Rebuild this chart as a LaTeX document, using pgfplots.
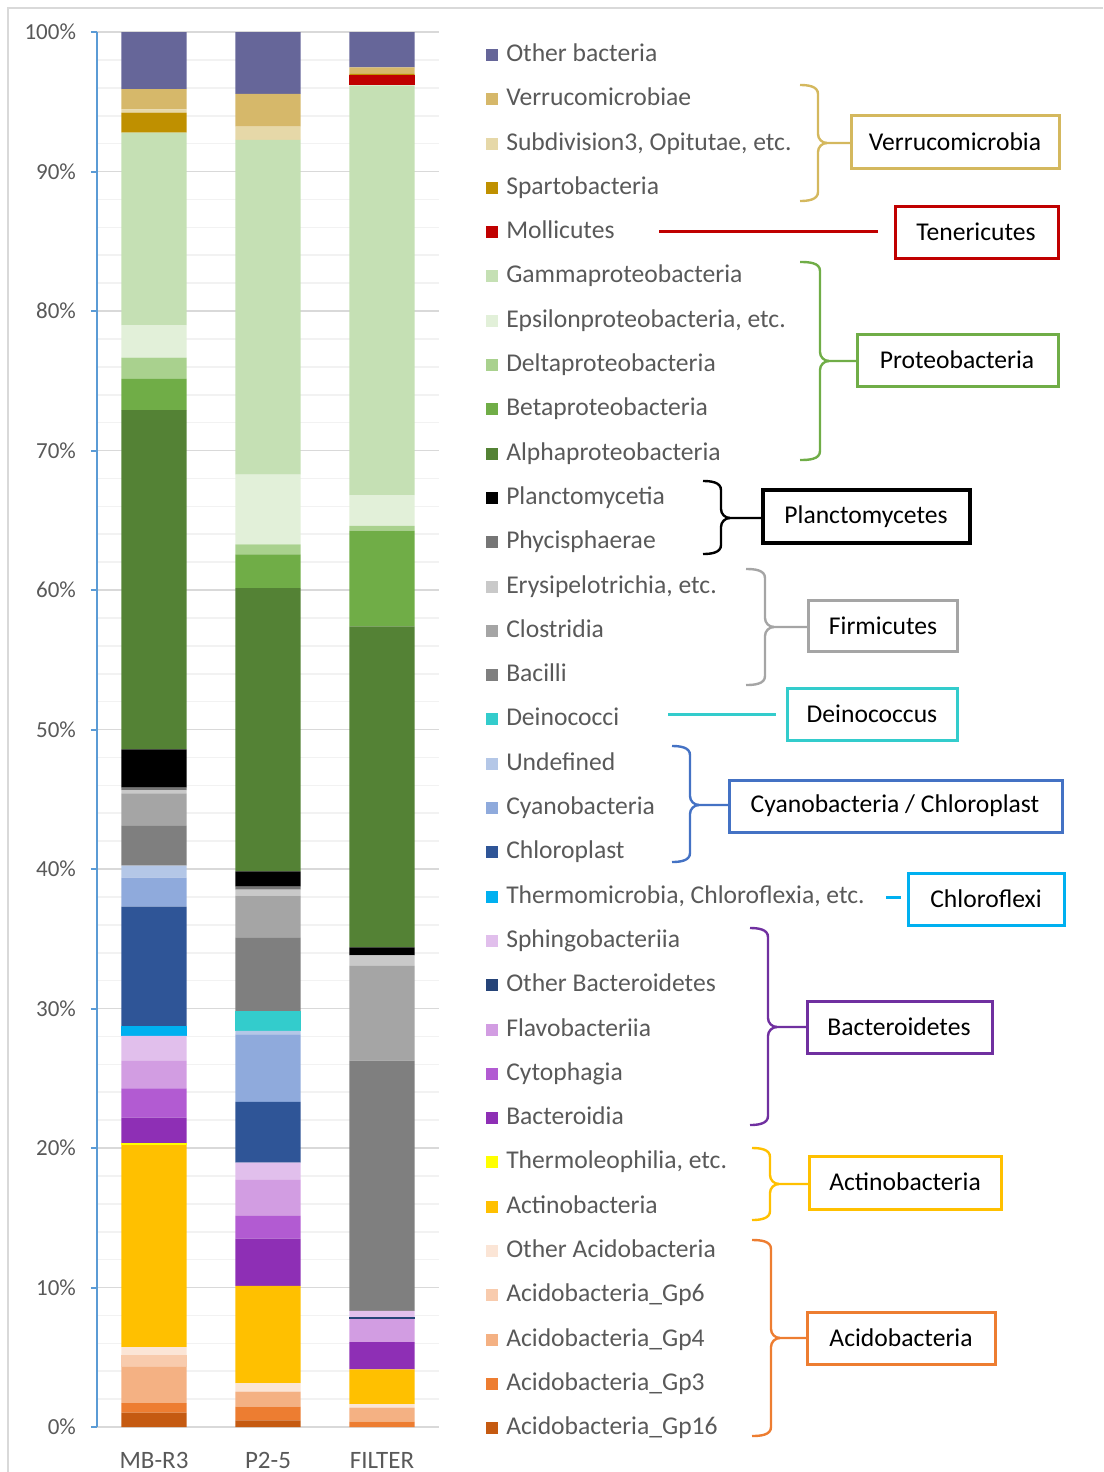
\documentclass[border=0pt]{standalone}
\usepackage{fontspec}
\setmainfont{Carlito}
\usepackage{pgfplots}
\usepackage{pgfplotstable}
\pgfplotsset{compat=1.18}

\definecolor{cg16}{HTML}{C55A11}
\definecolor{cg3}{HTML}{ED7D31}
\definecolor{cg4}{HTML}{F4B183}
\definecolor{cg6}{HTML}{F8CBAD}
\definecolor{coac}{HTML}{FBE5D6}
\definecolor{cact}{HTML}{FFC000}
\definecolor{cthl}{HTML}{FFFF00}
\definecolor{cbdi}{HTML}{8E2FB5}
\definecolor{ccyt}{HTML}{B25BD2}
\definecolor{cfla}{HTML}{D29DE2}
\definecolor{cobd}{HTML}{264478}
\definecolor{csph}{HTML}{E1BFEC}
\definecolor{ctmc}{HTML}{00B0F0}
\definecolor{cchl}{HTML}{2F5597}
\definecolor{ccya}{HTML}{8FAADC}
\definecolor{cund}{HTML}{B4C7E7}
\definecolor{cdei}{HTML}{33CCCC}
\definecolor{cbac}{HTML}{7F7F7F}
\definecolor{cclo}{HTML}{A5A5A5}
\definecolor{cery}{HTML}{C9C9C9}
\definecolor{cphy}{HTML}{767676}
\definecolor{cpla}{HTML}{000000}
\definecolor{calp}{HTML}{548235}
\definecolor{cbet}{HTML}{70AD47}
\definecolor{cdel}{HTML}{A9D18E}
\definecolor{ceps}{HTML}{E2F0D9}
\definecolor{cgam}{HTML}{C5E0B4}
\definecolor{cmol}{HTML}{C00000}
\definecolor{cspa}{HTML}{BF9000}
\definecolor{csub}{HTML}{E6D8A8}
\definecolor{cver}{HTML}{D6B86A}
\definecolor{coth}{HTML}{666699}

\definecolor{labgray}{HTML}{595959}
\definecolor{gridmaj}{HTML}{D9D9D9}
\definecolor{gridmin}{HTML}{F2F2F2}
\definecolor{axisblue}{HTML}{5B9BD5}
\definecolor{bverr}{HTML}{D4B85E}
\definecolor{bcyan}{HTML}{4472C4}
\definecolor{bbact}{HTML}{7030A0}

% relative abundance (%) per sample, bottom of stack first
\pgfplotstableread{
x g16 g3 g4 g6 oac act thl bdi cyt fla obd sph tmc chl cya und dei bac clo ery phy pla alp bet del eps gam mol spa sub ver oth
0 1.03 0.69 2.60 0.86 0.55 14.47 0.14 1.83 2.11 1.96 0 1.79 0.72 8.55 2.08 0.86 0 2.89 2.30 0.23 0.17 2.75 24.32 2.23 1.52 2.33 13.80 0 1.44 0.24 1.45 4.09
1 0.48 0.98 1.07 0 0.62 6.96 0 3.39 1.63 2.58 0 1.24 0 4.35 4.85 0.24 1.43 5.28 3.00 0.43 0.20 1.10 20.31 2.42 0.71 5.00 23.99 0 0 0.95 2.35 4.44
2 0 0.38 1.01 0 0.26 2.48 0 1.96 0 1.65 0.15 0.43 0 0 0 0 0 17.94 6.79 0.76 0 0.58 23.00 6.86 0.35 2.20 29.38 0.72 0.09 0 0.48 2.53
}\data

\newcommand{\series}[3]{\addplot[fill=#2, draw=none,
  legend image code/.code={\fill[#2] (0pt,-3pt) rectangle (6pt,3pt);}]
  table[x=x,y=#1]{\data};\addlegendentry{#3}}

% right brace: colour, tip x, spine x, top y, mid y, bottom y, end x
\newcommand{\grpbrace}[7]{%
  \draw[#1, line width=1.2pt] (#2,#4) to[out=0,in=90] ({#3},{#4+9}) -- ({#3},{#5-9}) to[out=-90,in=180] ({#3+9},#5) -- (#7,#5);
  \draw[#1, line width=1.2pt] (#2,#6) to[out=0,in=-90] ({#3},{#6-9}) -- ({#3},{#5+9}) to[out=90,in=180] ({#3+9},#5);}
\newcommand{\gbox}[6][1.5pt]{%
  \draw[#2, line width=#1] (#3) rectangle (#4);
  \node[font=\fontsize{12.8}{14}\selectfont, text=black] at (#5) {#6};}

\begin{document}
\begin{tikzpicture}
\useasboundingbox (0pt,0pt) rectangle (551.5pt,-736pt);
\begin{axis}[
  at={(48.5pt,-713.5pt)}, anchor=south west,
  scale only axis, width=171pt, height=697.5pt,
  ybar stacked, bar width=32.5pt,
  xmin=-0.5, xmax=2.5, ymin=0, ymax=100,
  xtick={0,1,2}, xticklabels={MB-R3,P2-5,FILTER},
  ytick={0,10,20,30,40,50,60,70,80,90,100},
  yticklabels={0\%,10\%,20\%,30\%,40\%,50\%,60\%,70\%,80\%,90\%,100\%},
  minor y tick num=4,
  ymajorgrids, yminorgrids,
  major grid style={draw=gridmaj, line width=0.8pt},
  minor grid style={draw=gridmin, line width=0.8pt},
  axis x line*=bottom, axis y line*=left,
  x axis line style={draw=none},
  y axis line style={-, draw=axisblue, line width=1pt},
  tick align=outside, major tick length=3pt, minor tick length=0pt,
  ytick style={draw=axisblue, line width=1pt},
  xtick style={draw=none},
  yticklabel style={font=\fontsize{11.5}{12}\selectfont, text=labgray, xshift=-4pt},
  xticklabel style={font=\fontsize{12.5}{13}\selectfont, text=labgray, yshift=-6pt},
  reverse legend, legend cell align=left,
  legend style={at={(axis description cs:1.137,0.9928)}, anchor=north west,
    draw=none, fill=none, font=\fontsize{12.8}{14}\selectfont, text=labgray,
    row sep=9.65pt, inner sep=0pt,
    nodes={text height=9.5pt, text depth=3pt, inner ysep=0pt, inner xsep=4pt}},
]
\series{g16}{cg16}{Acidobacteria\_Gp16}
\series{g3}{cg3}{Acidobacteria\_Gp3}
\series{g4}{cg4}{Acidobacteria\_Gp4}
\series{g6}{cg6}{Acidobacteria\_Gp6}
\series{oac}{coac}{Other Acidobacteria}
\series{act}{cact}{Actinobacteria}
\series{thl}{cthl}{Thermoleophilia, etc.}
\series{bdi}{cbdi}{Bacteroidia}
\series{cyt}{ccyt}{Cytophagia}
\series{fla}{cfla}{Flavobacteriia}
\series{obd}{cobd}{Other Bacteroidetes}
\series{sph}{csph}{Sphingobacteriia}
\series{tmc}{ctmc}{Thermomicrobia, Chloroflexia, etc.}
\series{chl}{cchl}{Chloroplast}
\series{cya}{ccya}{Cyanobacteria}
\series{und}{cund}{Undefined}
\series{dei}{cdei}{Deinococci}
\series{bac}{cbac}{Bacilli}
\series{clo}{cclo}{Clostridia}
\series{ery}{cery}{Erysipelotrichia, etc.}
\series{phy}{cphy}{Phycisphaerae}
\series{pla}{cpla}{Planctomycetia}
\series{alp}{calp}{Alphaproteobacteria}
\series{bet}{cbet}{Betaproteobacteria}
\series{del}{cdel}{Deltaproteobacteria}
\series{eps}{ceps}{Epsilonproteobacteria, etc.}
\series{gam}{cgam}{Gammaproteobacteria}
\series{mol}{cmol}{Mollicutes}
\series{spa}{cspa}{Spartobacteria}
\series{sub}{csub}{Subdivision3, Opitutae, etc.}
\series{ver}{cver}{Verrucomicrobiae}
\series{oth}{coth}{Other bacteria}
\end{axis}

\begin{scope}[x=0.5pt, y=-0.5pt]
\draw[gridmaj, line width=1pt] (8,1472) -- (8,8) -- (1103,8);
% Verrucomicrobia
\grpbrace{bverr}{800}{818}{85}{143}{201}{851}
\gbox{bverr}{851,115}{1059,168}{955,142}{Verrucomicrobia}
% Tenericutes
\draw[cmol, line width=1.5pt] (659,231) -- (878,231);
\gbox{cmol}{895,206}{1058,258}{976,232}{Tenericutes}
% Proteobacteria
\grpbrace{cbet}{800}{820}{262}{361}{460}{857}
\gbox{cbet}{857,334}{1058,386}{957,360}{Proteobacteria}
% Planctomycetes
\grpbrace{black}{703}{721}{481}{518}{554}{763}
\gbox[2pt]{black}{763,490}{970,543}{866,517}{Planctomycetes}
% Firmicutes
\grpbrace{cclo}{746}{765}{569}{627}{685}{808}
\gbox{cclo}{808,600}{957,651}{883,626}{Firmicutes}
% Deinococcus
\draw[cdei, line width=1.5pt] (668,714) -- (776,714);
\gbox{cdei}{787,688}{957,740}{872,714}{Deinococcus}
% Cyanobacteria / Chloroplast
\grpbrace{bcyan}{672}{690}{746}{805}{862}{729}
\gbox{bcyan}{729,780}{1062,832}{895,806}{Cyanobacteria / Chloroplast}
% Chloroflexi
\draw[ctmc, line width=1.5pt] (886,897) -- (901,897);
\gbox{ctmc}{908,873}{1064,925}{986,899}{Chloroflexi}
% Bacteroidetes
\grpbrace{bbact}{750}{768}{928}{1027}{1125}{807}
\gbox{bbact}{807,1001}{992,1053}{899,1027}{Bacteroidetes}
% Actinobacteria
\grpbrace{cact}{752}{770}{1148}{1184}{1220}{809}
\gbox{cact}{809,1156}{1001,1209}{905,1182}{Actinobacteria}
% Acidobacteria
\grpbrace{cg3}{752}{771}{1240}{1338}{1436}{807}
\gbox{cg3}{807,1312}{995,1364}{901,1338}{Acidobacteria}
\end{scope}
\end{tikzpicture}
\end{document}
